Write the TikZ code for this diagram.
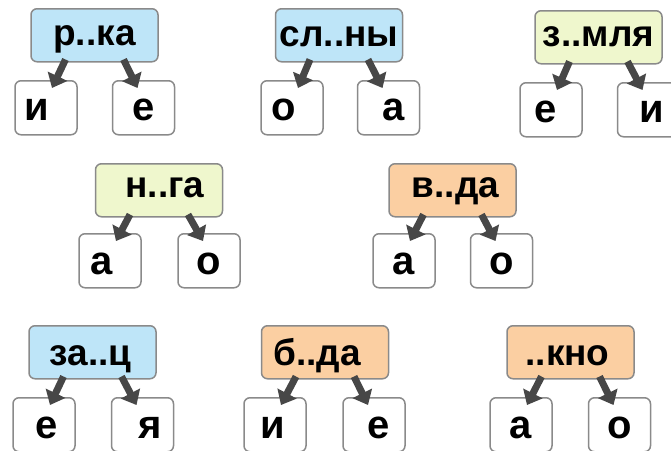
\documentclass[tikz,border=0pt]{standalone}
\usepackage{fontspec}
\setmainfont{Liberation Sans}
\usetikzlibrary{arrows.meta,calc}
\definecolor{cblue}{HTML}{BEE5F8}
\definecolor{cgreen}{HTML}{EFF7CD}
\definecolor{corange}{HTML}{FBCFA2}
\definecolor{cborder}{HTML}{8A8A8A}
\definecolor{carrow}{HTML}{474747}
\tikzset{
  pbox/.style={draw=cborder, line width=1.5pt, rounded corners=6pt, minimum width=127pt, minimum height=53pt, inner sep=0pt, anchor=north},
  cbox/.style={draw=cborder, fill=white, line width=1.5pt, rounded corners=6pt, minimum width=62pt, minimum height=54pt, inner sep=0pt, anchor=north},
  ptext/.style={font=\bfseries\fontsize{37}{37}\selectfont, anchor=base, inner sep=0pt},
  ctext/.style={font=\bfseries\fontsize{40}{40}\selectfont, anchor=base, inner sep=0pt},
  arr/.style={draw=carrow, line width=7pt, -{Triangle[length=13pt,width=21pt]}}
}
\begin{document}
\begin{tikzpicture}[x=1pt,y=-1pt]
\useasboundingbox (0,0) rectangle (671,450);
% group 1
\node[pbox, fill=cblue] (p1) at (94.5,8) {};
\node[cbox] (a1) at (46,80) {};
\node[cbox] (b1) at (143.5,80) {};
\node[ptext] (tp1) at ($(p1.north)+(0,37)$) {р..ка};
\node[ctext] (ta1) at ($(a1.north)+(-9,40)$) {и};
\node[ctext] (tb1) at ($(b1.north)+(0,40)$) {е};
% group 2
\node[pbox, fill=cblue] (p2) at (339,8) {};
\node[cbox] (a2) at (292,80) {};
\node[cbox] (b2) at (388.5,80) {};
\node[ptext] (tp2) at ($(p2.north)+(0,38)$) {сл..ны};
\node[ctext] (ta2) at ($(a2.north)+(-8,40)$) {о};
\node[ctext] (tb2) at ($(b2.north)+(5,40)$) {а};
% group 3
\node[pbox, fill=cgreen] (p3) at (598.5,10) {};
\node[cbox] (a3) at (551,82) {};
\node[cbox] (b3) at (648.5,82) {};
\node[ptext] (tp3) at ($(p3.north)+(0,36)$) {з..мля};
\node[ctext] (ta3) at ($(a3.north)+(-5,40)$) {е};
\node[ctext] (tb3) at ($(b3.north)+(3,40)$) {и};
% group 4
\node[pbox, fill=cgreen] (p4) at (159,163) {};
\node[cbox] (a4) at (110,233) {};
\node[cbox] (b4) at (209,233) {};
\node[ptext] (tp4) at ($(p4.north)+(6,34)$) {н..га};
\node[ctext] (ta4) at ($(a4.north)+(-8,41)$) {а};
\node[ctext] (tb4) at ($(b4.north)+(0,41)$) {о};
% group 5
\node[pbox, fill=corange] (p5) at (452.5,163) {};
\node[cbox] (a5) at (404,233) {};
\node[cbox] (b5) at (501.5,233) {};
\node[ptext] (tp5) at ($(p5.north)+(3,34)$) {в..да};
\node[ctext] (ta5) at ($(a5.north)+(0,41)$) {а};
\node[ctext] (tb5) at ($(b5.north)+(0,41)$) {о};
% group 6
\node[pbox, fill=cblue] (p6) at (92.5,325) {};
\node[cbox] (a6) at (44,397) {};
\node[cbox] (b6) at (142.5,397) {};
\node[ptext] (tp6) at ($(p6.north)+(-2,40)$) {за..ц};
\node[ctext] (ta6) at ($(a6.north)+(3,41)$) {е};
\node[ctext] (tb6) at ($(b6.north)+(8,41)$) {я};
% group 7
\node[pbox, fill=corange] (p7) at (325,325) {};
\node[cbox] (a7) at (275,397) {};
\node[cbox] (b7) at (374,397) {};
\node[ptext] (tp7) at ($(p7.north)+(-8,40)$) {б..да};
\node[ctext] (ta7) at ($(a7.north)+(-2,41)$) {и};
\node[ctext] (tb7) at ($(b7.north)+(5,41)$) {е};
% group 8
\node[pbox, fill=corange] (p8) at (570.5,325) {};
\node[cbox] (a8) at (521,397) {};
\node[cbox] (b8) at (619.5,397) {};
\node[ptext] (tp8) at ($(p8.north)+(-3,40)$) {..кно};
\node[ctext] (ta8) at ($(a8.north)+(0,41)$) {а};
\node[ctext] (tb8) at ($(b8.north)+(0,41)$) {о};
% arrows
\foreach \i in {1,...,8}{
  \draw[arr] ($(p\i.south)+(-29,-3)$) -- ($(a\i.north)+(6,8)$);
  \draw[arr] ($(p\i.south)+(29,-3)$) -- ($(b\i.north)+(-6,8)$);
}
\end{tikzpicture}
\end{document}
